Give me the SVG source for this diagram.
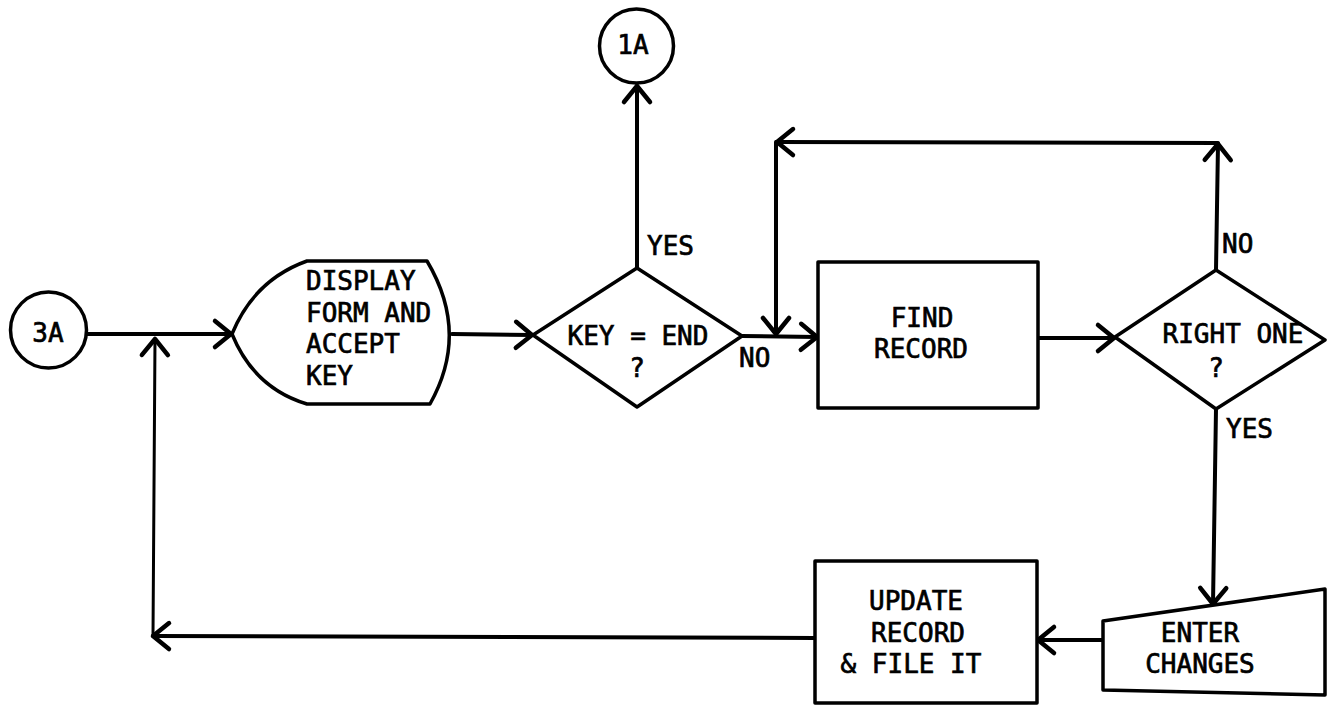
<svg xmlns="http://www.w3.org/2000/svg" width="1330" height="706" viewBox="0 0 1330 706">
<style>
.shape{fill:#fff;stroke:#000;stroke-width:3.5;stroke-linejoin:round}
.conn{fill:none;stroke:#000;stroke-width:4;stroke-linecap:round;marker-end:url(#arr)}
.thin{stroke-width:3}
.t{font-family:"DejaVu Sans Mono","Liberation Mono",monospace;font-size:26px;fill:#000;stroke:#000;stroke-width:0.7}
.m{text-anchor:middle}
</style>
<defs>
<marker id="arr" markerUnits="userSpaceOnUse" markerWidth="26" markerHeight="34" viewBox="-20 -17 26 34" refX="0" refY="0" orient="auto">
<path d="M-16,-13 L0,0 L-16,13" fill="none" stroke="#000" stroke-width="4.5" stroke-linecap="round" stroke-linejoin="round"/>
</marker>
</defs>
<rect width="1330" height="706" fill="#fff"/>
<g id="connectors">
<path class="conn" d="M86,334 L231,334"/>
<path class="conn" d="M815,638 L153,636"/>
<path class="conn thin" d="M153,636 L155,339"/>
<path class="conn" d="M452,334 L532,335"/>
<path class="conn" d="M637,268 L637,86"/>
<path class="conn" d="M742,336 L817,337"/>
<path class="conn" d="M1216,270 L1218,144"/>
<path class="conn" d="M1218,143 L777,142"/>
<path class="conn" d="M776,142 L776,334"/>
<path class="conn" d="M1038,338 L1114,338"/>
<path class="conn" d="M1216,409 L1213,604"/>
<path class="conn" d="M1103,640 L1038,640"/>
</g>
<g id="n3A">
<circle class="shape" cx="48.5" cy="330" r="38"/>
<text class="t m" x="48" y="342">3A</text>
</g>
<g id="n1A">
<circle class="shape" cx="636.5" cy="46" r="37"/>
<text class="t m" x="633" y="54">1A</text>
</g>
<g id="display">
<path class="shape" d="M232,334 Q254,280 307,261 L427,261 Q470,333 430,404 L307,404 Q254,388 232,334 Z"/>
<text class="t" x="306" y="290">DISPLAY</text>
<text class="t" x="306" y="322">FORM AND</text>
<text class="t" x="306" y="353">ACCEPT</text>
<text class="t" x="306" y="385">KEY</text>
</g>
<g id="keyend">
<polygon class="shape" points="533,335 637,268 742,336 637,407"/>
<text class="t m" x="638" y="345">KEY = END</text>
<text class="t m" x="637" y="377">?</text>
<text class="t" x="647" y="255">YES</text>
<text class="t" x="739" y="367">NO</text>
</g>
<g id="find">
<rect class="shape" x="818" y="262" width="220" height="146"/>
<text class="t m" x="922" y="327">FIND</text>
<text class="t m" x="921" y="358">RECORD</text>
</g>
<g id="rightone">
<polygon class="shape" points="1115,337 1216,270 1325,340 1216,409"/>
<text class="t m" x="1233" y="343">RIGHT ONE</text>
<text class="t m" x="1216" y="377">?</text>
<text class="t" x="1222" y="253">NO</text>
<text class="t" x="1226" y="438">YES</text>
</g>
<g id="enter">
<polygon class="shape" points="1103,621 1325,589 1325,695 1103,690"/>
<text class="t m" x="1200" y="642">ENTER</text>
<text class="t m" x="1200" y="673">CHANGES</text>
</g>
<g id="update">
<rect class="shape" x="815" y="561" width="222" height="142"/>
<text class="t m" x="916" y="610">UPDATE</text>
<text class="t m" x="918" y="642">RECORD</text>
<text class="t m" x="911" y="673">&amp; FILE IT</text>
</g>
</svg>
